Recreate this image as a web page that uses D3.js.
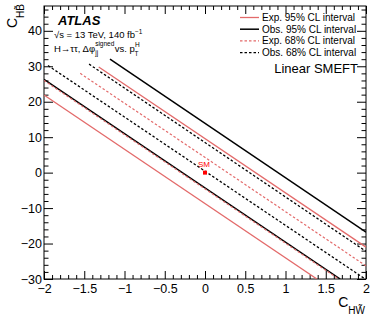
<!DOCTYPE html>
<html>
<head>
<meta charset="utf-8">
<script src="https://cdn.jsdelivr.net/npm/d3@7"></script>
<style>
  body { margin: 0; background: #fff; }
  svg { display: block; font-family: "Liberation Sans", Arial, Helvetica, sans-serif; }
</style>
</head>
<body>
<div id="chart"></div>
<script>
// contour lines, as [cHWt, cHBt] end points
var exp95Lines = [
  [[-2.00, 21.9], [1.39, -30.0]],
  [[-1.32, 29.8], [2.00, -21.0]]
];
var exp68Lines = [
  [[-2.00, 26.0], [1.66, -30.0]],
  [[-1.55, 28.0], [2.00, -26.3]]
];
var obs95Lines = [
  [[-2.00, 26.3], [1.68, -30.0]],
  [[-1.18, 32.0], [2.00, -16.8]]
];
var obs68Lines = [
  [[-1.95, 30.2], [1.99, -30.0]],
  [[-1.44, 30.6], [2.00, -22.2]]
];
var smPoint = [0, 0];

var xTicks = [-2, -1.5, -1, -0.5, 0, 0.5, 1, 1.5, 2];
var yTicks = [-30, -20, -10, 0, 10, 20, 30, 40];
var legendLabels = ['Exp. 95% CL interval', 'Obs. 95% CL interval',
  'Exp. 68% CL interval', 'Obs. 68% CL interval'];

var _width = 374, _height = 319;
var red = '#e36a6a';
var frame = {left: 44, right: 366, top: 6, bottom: 279};

var svg = d3.select('#chart').append('svg')
  .attr('width', _width)
  .attr('height', _height);

var x = d3.scaleLinear().domain([-2, 2]).range([frame.left, frame.right]);
var y = d3.scaleLinear().domain([-30, 47]).range([frame.bottom, frame.top]);

// minor ticks every 0.1 in x and 2 in y
var xMinor = d3.range(-20, 21).map(function(d) { return d / 10; })
  .filter(function(d) { return xTicks.indexOf(d) < 0; });
var yMinor = d3.range(-30, 47, 2).filter(function(d) { return yTicks.indexOf(d) < 0; });

var fmt = d3.format('~g');

function axisGroup(axis, tx, ty) {
  var g = svg.append('g').attr('transform', 'translate(' + tx + ',' + ty + ')').call(axis);
  g.select('.domain').remove();
  g.selectAll('line').attr('stroke', '#000').attr('stroke-width', 1);
  return g;
}

// major + minor ticks on all four sides (drawn inward)
var bottom = axisGroup(d3.axisBottom(x).tickValues(xTicks).tickSize(-8).tickPadding(5).tickFormat(fmt), 0, frame.bottom);
axisGroup(d3.axisBottom(x).tickValues(xMinor).tickSize(-4).tickFormat(''), 0, frame.bottom);
axisGroup(d3.axisTop(x).tickValues(xTicks).tickSize(-8).tickFormat(''), 0, frame.top);
axisGroup(d3.axisTop(x).tickValues(xMinor).tickSize(-4).tickFormat(''), 0, frame.top);
var left = axisGroup(d3.axisLeft(y).tickValues(yTicks).tickSize(-9).tickPadding(2).tickFormat(fmt), frame.left, 0);
axisGroup(d3.axisLeft(y).tickValues(yMinor).tickSize(-4.5).tickFormat(''), frame.left, 0);
axisGroup(d3.axisRight(y).tickValues(yTicks).tickSize(-9).tickFormat(''), frame.right, 0);
axisGroup(d3.axisRight(y).tickValues(yMinor).tickSize(-4.5).tickFormat(''), frame.right, 0);

bottom.selectAll('text').attr('font-size', 12.5).attr('fill', '#000')
  .attr('font-family', '"Liberation Sans", Arial, sans-serif');
left.selectAll('text').attr('font-size', 12.5).attr('fill', '#000')
  .attr('font-family', '"Liberation Sans", Arial, sans-serif');

svg.append('rect')
  .attr('x', frame.left).attr('y', frame.top)
  .attr('width', frame.right - frame.left).attr('height', frame.bottom - frame.top)
  .attr('fill', 'none').attr('stroke', '#000').attr('stroke-width', 1);

// contour lines
var line = d3.line().x(function(d) { return x(d[0]); }).y(function(d) { return y(d[1]); });
var clip = svg.append('clipPath').attr('id', 'plotclip').append('rect')
  .attr('x', frame.left).attr('y', frame.top)
  .attr('width', frame.right - frame.left).attr('height', frame.bottom - frame.top);
var plot = svg.append('g').attr('clip-path', 'url(#plotclip)');

var styles = [
  {data: exp95Lines, color: red, dash: null, w: 1.3},
  {data: obs95Lines, color: '#000', dash: null, w: 1.5},
  {data: exp68Lines, color: red, dash: '2.5,2', w: 1.2},
  {data: obs68Lines, color: '#000', dash: '2.5,2', w: 1.3}
];
styles.forEach(function(s) {
  plot.selectAll(null).data(s.data).enter().append('path')
    .attr('d', line)
    .attr('fill', 'none')
    .attr('stroke', s.color)
    .attr('stroke-width', s.w)
    .attr('stroke-dasharray', s.dash);
});

// SM point
plot.append('rect')
  .attr('x', x(smPoint[0]) - 2).attr('y', y(smPoint[1]) - 2)
  .attr('width', 4).attr('height', 4).attr('fill', '#f00');
svg.append('text')
  .attr('x', x(smPoint[0]) - 7).attr('y', y(smPoint[1]) - 6)
  .attr('font-size', 8).attr('fill', '#f00').text('SM');

// legend
var leg = svg.append('g');
legendLabels.forEach(function(lbl, i) {
  var s = styles[i], yy = 17.5 + i * 11.7;
  leg.append('line')
    .attr('x1', 240).attr('x2', 259).attr('y1', yy).attr('y2', yy)
    .attr('stroke', s.color).attr('stroke-width', s.w)
    .attr('stroke-dasharray', s.dash);
  leg.append('text').attr('x', 262).attr('y', yy + 3.5)
    .attr('font-size', 10).text(lbl);
});
svg.append('text').attr('x', 358).attr('y', 73).attr('text-anchor', 'end')
  .attr('font-size', 13).text('Linear SMEFT');

// ATLAS labels
svg.append('text').attr('x', 58).attr('y', 25)
  .attr('font-size', 13).attr('font-weight', 'bold').attr('font-style', 'italic')
  .text('ATLAS');
var t1 = svg.append('text').attr('x', 54).attr('y', 38).attr('font-size', 9.5);
t1.append('tspan').text('\u221As = 13 TeV, 140 fb');
t1.append('tspan').attr('dy', -4).attr('font-size', 6.5).text('\u22121');
var t2 = svg.append('text').attr('x', 54).attr('y', 52).attr('font-size', 9.5);
t2.append('tspan').text('H\u2192\u03C4\u03C4, \u0394\u03C6');
t2.append('tspan').attr('dy', -6).attr('font-size', 6.5).text('signed');
t2.append('tspan').attr('dx', -19).attr('dy', 9).attr('font-size', 6.5).text('jj');
t2.append('tspan').attr('dx', 14).attr('dy', -3).text(' vs. p');
t2.append('tspan').attr('dy', -5).attr('font-size', 6.5).text('H');
t2.append('tspan').attr('dx', -5).attr('dy', 9).attr('font-size', 6.5).text('T');

// axis titles
var xt = svg.append('text').attr('x', 365).attr('y', 307).attr('text-anchor', 'end').attr('font-size', 14);
xt.append('tspan').text('C');
xt.append('tspan').attr('dy', 7).attr('font-size', 10).text('HW\u0303');
var yt = svg.append('text').attr('transform', 'translate(17,4) rotate(-90)')
  .attr('text-anchor', 'end').attr('font-size', 14);
yt.append('tspan').text('C');
yt.append('tspan').attr('dy', 7).attr('font-size', 10).text('HB\u0303');
</script>
</body>
</html>
